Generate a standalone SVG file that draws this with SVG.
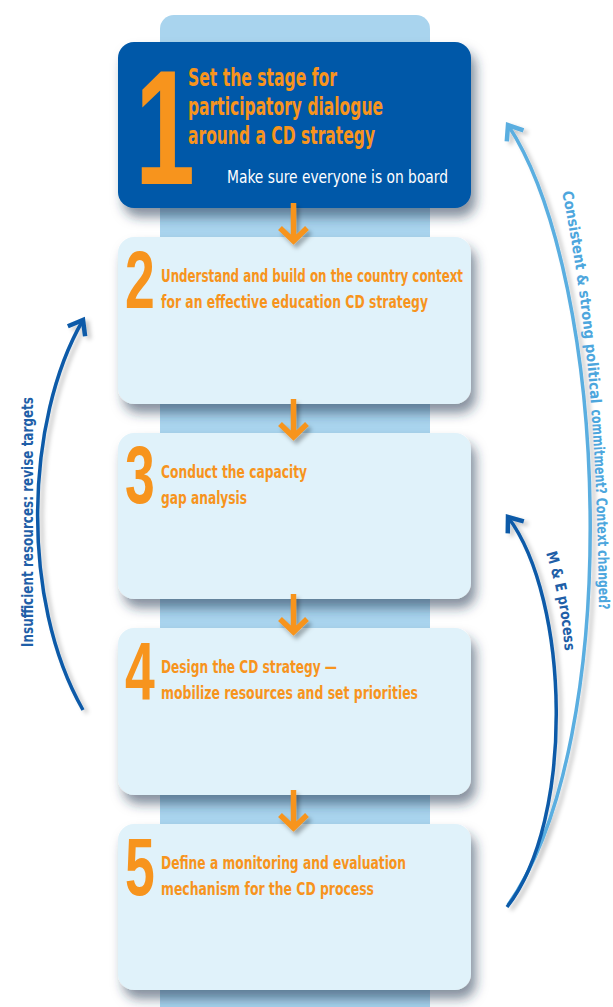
<svg xmlns="http://www.w3.org/2000/svg" width="613" height="1007" viewBox="0 0 613 1007">
<defs>
<style>
.box{fill:#e0f2fa}
.box1{fill:#0058a8}
.t{font-family:"Liberation Sans Narrow","DejaVu Sans Condensed","Liberation Sans",sans-serif;font-weight:bold;fill:#f7941d}
.num{font-family:"Liberation Sans","DejaVu Sans",sans-serif;font-weight:bold;fill:#f7941d}
.sub{font-family:"Liberation Sans Narrow","DejaVu Sans Condensed","Liberation Sans",sans-serif;fill:#ffffff;font-size:17px}
.side{font-family:"Liberation Sans Narrow","DejaVu Sans Condensed","Liberation Sans",sans-serif;font-weight:bold;font-size:15px}
.oa{fill:none;stroke:#f7941d;stroke-width:5.5}
.arcd{fill:none;stroke:#0a5aa8;stroke-width:3.5}
.arcl{fill:none;stroke:#5aaee0;stroke-width:3.5}
</style>
<filter id="sh" x="-10%" y="-10%" width="125%" height="135%">
<feDropShadow dx="5" dy="9" stdDeviation="6" flood-color="#1b3550" flood-opacity="0.55"/>
</filter>
<filter id="sa" x="-50%" y="-20%" width="200%" height="140%">
<feDropShadow dx="3" dy="4" stdDeviation="2" flood-color="#000" flood-opacity="0.3"/>
</filter>
<filter id="sl" x="-50%" y="-10%" width="200%" height="120%">
<feDropShadow dx="4" dy="3" stdDeviation="2" flood-color="#000" flood-opacity="0.22"/>
</filter>
<marker id="hd" markerUnits="userSpaceOnUse" viewBox="-20 -15 30 30" markerWidth="30" markerHeight="30" refX="0" refY="0" orient="auto">
<path d="M -13 -10 L 0 0 L -13 10" fill="none" stroke="#0a5aa8" stroke-width="4.5"/>
</marker>
<marker id="hl" markerUnits="userSpaceOnUse" viewBox="-20 -15 30 30" markerWidth="30" markerHeight="30" refX="0" refY="0" orient="auto">
<path d="M -13 -10 L 0 0 L -13 10" fill="none" stroke="#5aaee0" stroke-width="4.5"/>
</marker>
<path id="pl" d="M 562,192 C 584,300 597,420 599,615"/>
<path id="pm" d="M 546,553 C 556,585 563,615 566,668"/>
</defs>
<rect width="613" height="1007" fill="#ffffff"/>
<rect id="spine" x="160" y="15" width="270" height="1010" rx="14" fill="#a9d4ee"/>

<g id="step1" filter="url(#sh)">
<rect class="box1" x="118" y="42" width="353" height="166" rx="16"/>
</g>
<g id="step1-text">
<text class="num" font-size="163" transform="translate(135,184) scale(0.66,1)">1</text>
<text class="t" font-size="25" x="188" y="86" textLength="149" lengthAdjust="spacingAndGlyphs">Set the stage for</text>
<text class="t" font-size="25" x="188" y="115" textLength="195" lengthAdjust="spacingAndGlyphs">participatory dialogue</text>
<text class="t" font-size="25" x="188" y="144" textLength="187" lengthAdjust="spacingAndGlyphs">around a CD strategy</text>
<text class="sub" x="227" y="183" textLength="221" lengthAdjust="spacingAndGlyphs">Make sure everyone is on board</text>
</g>

<g id="step2">
<rect class="box" x="118" y="237" width="353" height="167" rx="16" filter="url(#sh)"/>
<text class="num" font-size="81" transform="translate(125,308) scale(0.66,1)">2</text>
<text class="t" font-size="18" x="161" y="282" textLength="302" lengthAdjust="spacingAndGlyphs">Understand and build on the country context</text>
<text class="t" font-size="18" x="161" y="308" textLength="267" lengthAdjust="spacingAndGlyphs">for an effective education CD strategy</text>
</g>

<g id="step3">
<rect class="box" x="118" y="433" width="353" height="166" rx="16" filter="url(#sh)"/>
<text class="num" font-size="81" transform="translate(125,503) scale(0.66,1)">3</text>
<text class="t" font-size="18" x="161" y="478" textLength="146" lengthAdjust="spacingAndGlyphs">Conduct the capacity</text>
<text class="t" font-size="18" x="161" y="504" textLength="86" lengthAdjust="spacingAndGlyphs">gap analysis</text>
</g>

<g id="step4">
<rect class="box" x="118" y="628" width="353" height="167" rx="16" filter="url(#sh)"/>
<text class="num" font-size="81" transform="translate(125,699) scale(0.66,1)">4</text>
<text class="t" font-size="18" x="161" y="673" textLength="176" lengthAdjust="spacingAndGlyphs">Design the CD strategy —</text>
<text class="t" font-size="18" x="161" y="699" textLength="257" lengthAdjust="spacingAndGlyphs">mobilize resources and set priorities</text>
</g>

<g id="step5">
<rect class="box" x="118" y="824" width="353" height="166" rx="16" filter="url(#sh)"/>
<text class="num" font-size="81" transform="translate(125,895) scale(0.66,1)">5</text>
<text class="t" font-size="18" x="161" y="869" textLength="245" lengthAdjust="spacingAndGlyphs">Define a monitoring and evaluation</text>
<text class="t" font-size="18" x="161" y="895" textLength="213" lengthAdjust="spacingAndGlyphs">mechanism for the CD process</text>
</g>

<g id="connectors">
<g filter="url(#sa)">
<path class="oa" d="M 293.5,203 V 240 M 280,228 L 293.5,241 L 307,228"/>
<path class="oa" d="M 293.5,399 V 436 M 280,424 L 293.5,437 L 307,424"/>
<path class="oa" d="M 293.5,594 V 631 M 280,619 L 293.5,632 L 307,619"/>
<path class="oa" d="M 293.5,790 V 827 M 280,815 L 293.5,828 L 307,815"/>
</g>
<g filter="url(#sl)">
<path class="arcd" d="M 83,710 C 20,600 25,420 83,320" marker-end="url(#hd)"/>
<path class="arcl" d="M 508,905 C 625,740 610,280 508,125" marker-end="url(#hl)"/>
<path class="arcd" d="M 507,907 C 575,820 570,600 508,517" marker-end="url(#hd)"/>
</g>
<text class="side" fill="#1f5fa8" transform="translate(33,647) rotate(-90)" textLength="250" lengthAdjust="spacingAndGlyphs">Insufficient resources: revise targets</text>
<text class="side" fill="#4da6dd"><textPath href="#pl" textLength="214" lengthAdjust="spacingAndGlyphs">Consistent &amp; strong political</textPath></text>
<text class="side" fill="#4da6dd"><textPath href="#pl" startOffset="220" textLength="200" lengthAdjust="spacingAndGlyphs">commitment? Context changed?</textPath></text>
<text class="side" fill="#1f5fa8"><textPath href="#pm" textLength="100" lengthAdjust="spacingAndGlyphs">M &amp; E process</textPath></text>
</g>
</svg>
